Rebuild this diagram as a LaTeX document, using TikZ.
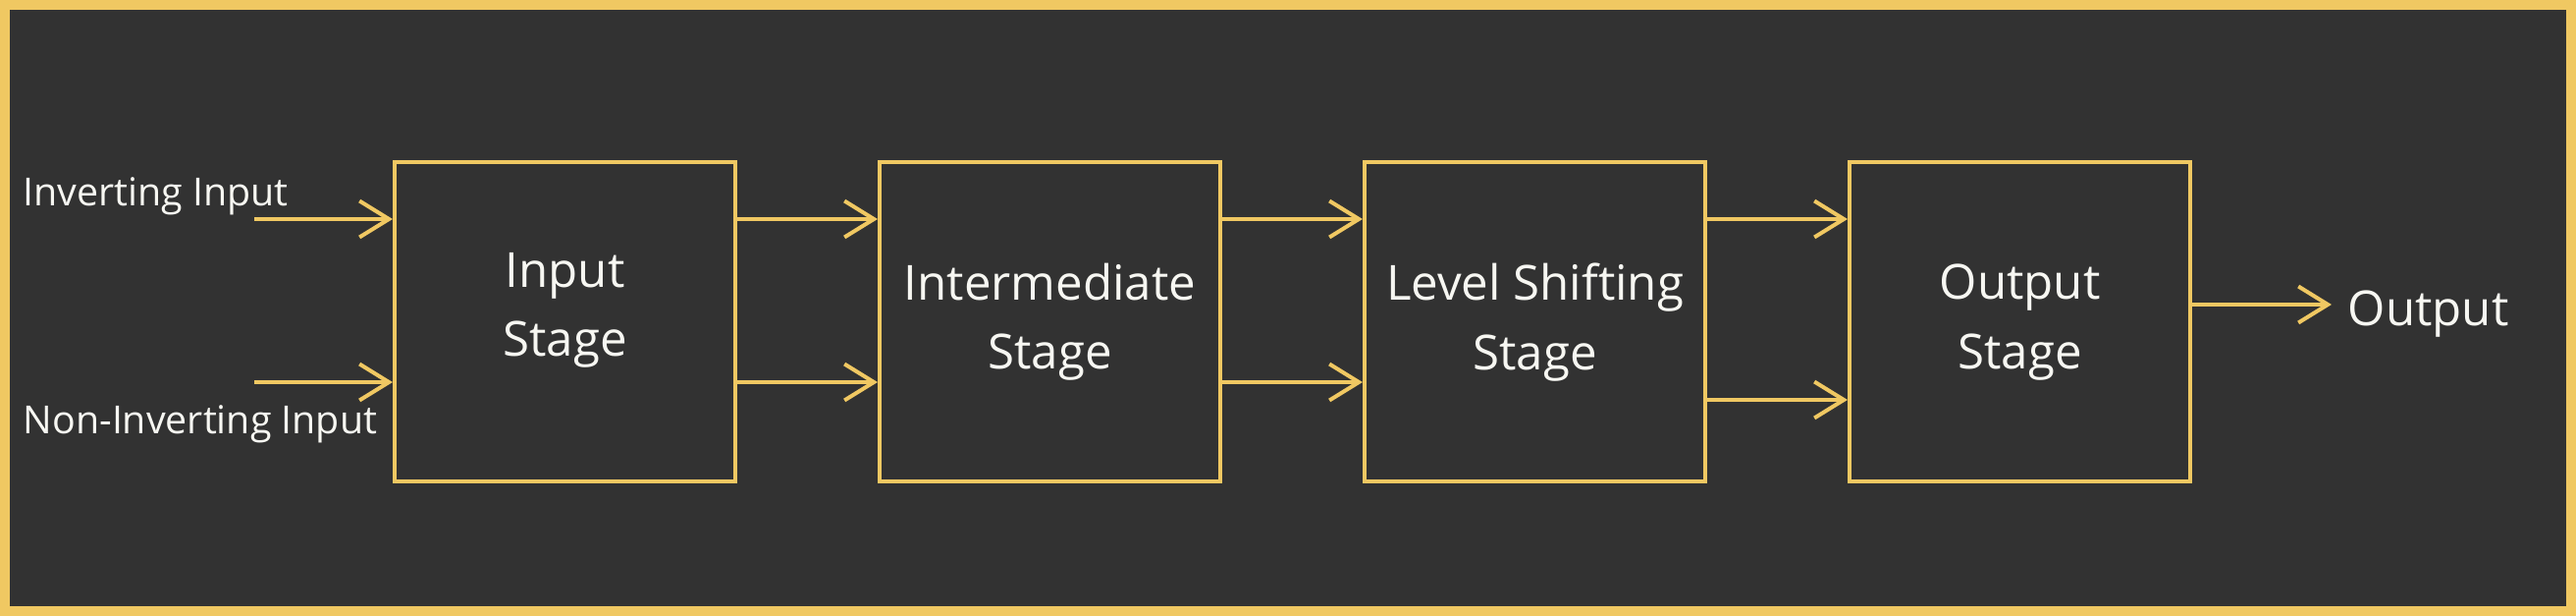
\documentclass[tikz,border=0pt]{standalone}
\usepackage{fontspec}
\setmainfont{Open Sans}
\usetikzlibrary{positioning,arrows.meta}
\definecolor{bgdark}{HTML}{323232}
\definecolor{goldline}{HTML}{F0C862}
\definecolor{lighttext}{HTML}{F7F7F2}

\begin{document}
\begin{tikzpicture}[
        stage/.style={draw=goldline, line width=0.04cm, minimum width=3.47cm, minimum height=3.25cm},
        flow/.style={draw=goldline, line width=0.04cm, -{Straight Barb[length=0.3cm, width=0.37cm]}},
        stagetext/.style={text=lighttext, font=\fontsize{14}{20}\selectfont, align=center},
        sidetext/.style={text=lighttext, font=\fontsize{11.2}{13}\selectfont, anchor=base west, inner sep=0}
    ]
        % Frame and background
        \fill[goldline] (0,0) rectangle (26.24,-6.27);
        \fill[bgdark] (0.1,-0.1) rectangle (26.14,-6.17);

        % Stages
        \node[stage] (input) at (5.755,-3.28) {};
        \node[stage, right=1.43cm of input] (inter) {};
        \node[stage, right=1.43cm of inter] (shift) {};
        \node[stage, right=1.43cm of shift] (output) {};
        \foreach \name/\txt/\dy in {input/{Input\\Stage}/0.12, inter/{Intermediate\\Stage}/0, shift/{Level Shifting\\Stage}/0, output/{Output\\Stage}/0} {
            \node[stagetext, yshift=\dy cm] (\name-t) at (\name) {\txt};
        }

        % Inputs
        \coordinate (inv) at (2.59,-2.23);
        \coordinate (noninv) at (2.59,-3.89);
        \node[sidetext] (invlabel) at (0.23,-2.10) {Inverting Input};
        \node[sidetext] (noninvlabel) at (0.23,-4.42) {Non-Inverting Input};
        \draw[flow] (inv) -- (inv -| input.west);
        \draw[flow] (noninv) -- (noninv -| input.west);

        % Between stages
        \foreach \a/\b in {input/inter, inter/shift} {
            \draw[flow] ([yshift=1.05cm]\a.east) -- ([yshift=1.05cm]\b.west);
            \draw[flow] ([yshift=-0.61cm]\a.east) -- ([yshift=-0.61cm]\b.west);
        }
        \draw[flow] ([yshift=1.05cm]shift.east) -- ([yshift=1.05cm]output.west);
        \draw[flow] ([yshift=-0.79cm]shift.east) -- ([yshift=-0.79cm]output.west);

        % Output
        \coordinate (outend) at (23.75,-3.10);
        \node[stagetext, anchor=base west, inner sep=0] (outlabel) at (23.91,-3.32) {Output};
        \draw[flow] (outend -| output.east) -- (outend);
    \end{tikzpicture}
\end{document}
